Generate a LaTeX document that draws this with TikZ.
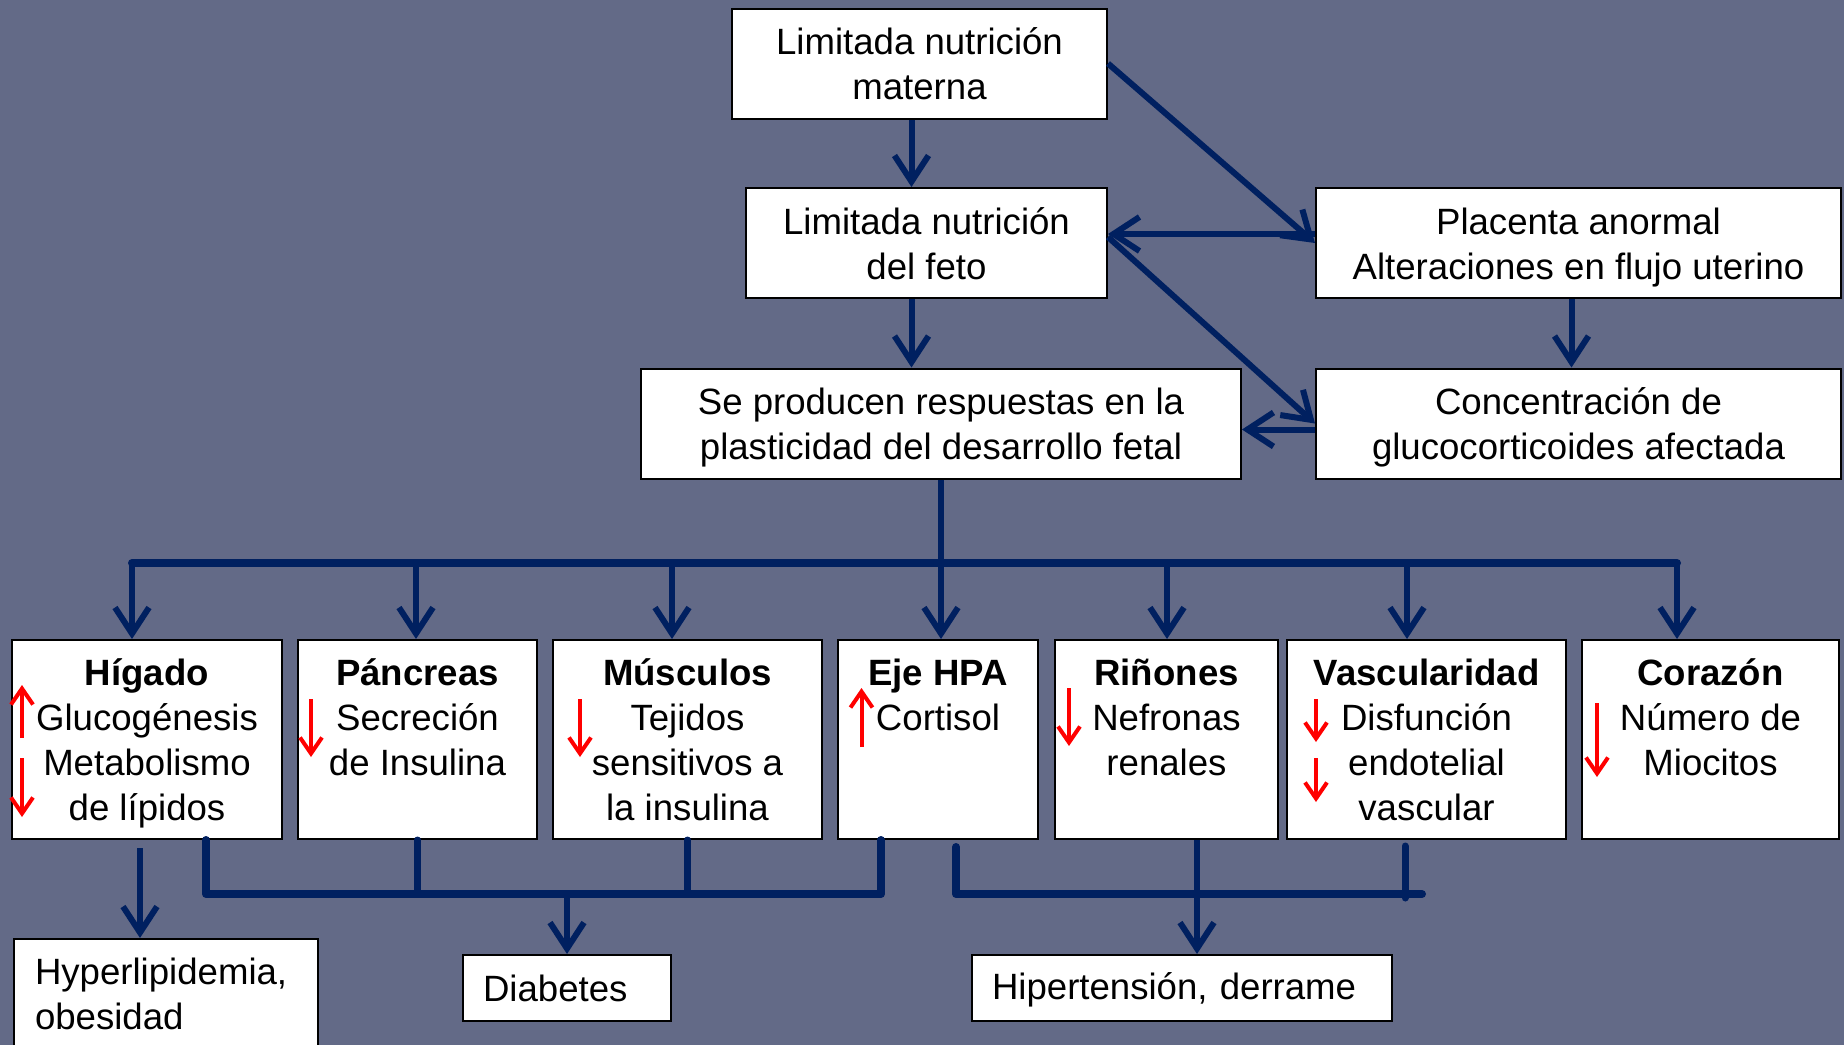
\documentclass[tikz,border=0pt]{standalone}
\usepackage{fontspec}
\setmainfont{Liberation Sans}
\usetikzlibrary{arrows.meta}
\definecolor{fondo}{RGB}{99,106,135}
\definecolor{azul}{RGB}{0,32,96}
\newcommand{\alto}[1]{\rule{0pt}{#1}}
\begin{document}
\begin{tikzpicture}[x=0.5pt,y=-0.5pt,>={Straight Barb[length=13pt,width=17pt]},
	font=\fontsize{18.3}{22.5}\selectfont,
	caja/.style={draw=black,line width=1pt,fill=white,align=center,inner sep=0pt},
	organo/.style={caja,anchor=north west,minimum height=99.5pt},
	salida/.style={caja,anchor=north west,align=left,inner xsep=10pt,minimum height=33pt},
	texto/.style={anchor=north,align=center,inner sep=0pt},
	flecha/.style={->,draw=azul,line width=3pt},
	tallo/.style={draw=azul,line width=3.5pt,line cap=round},
	barra/.style={draw=azul,line width=4pt,line cap=round,line join=round},
	roja/.style={-{Straight Barb[length=8pt,width=11pt]},draw=red,line width=2pt}]
	\useasboundingbox (0,0) rectangle (1844,1045);
	\fill[fondo] (0,0) rectangle (1844,1045);
	\node[caja,minimum width=187.5pt,minimum height=55pt] (materna) at (919.5,63.5) {\alto{20.5pt}Limitada nutrición\\\strut materna};
	\node[caja,minimum width=180.5pt,minimum height=55pt] (feto) at (926.5,243) {\alto{20.5pt}Limitada nutrición\\\strut del feto};
	\node[caja,minimum width=262.5pt,minimum height=55pt] (placenta) at (1578.5,243) {\alto{20.5pt}Placenta anormal\\\strut Alteraciones en flujo uterino};
	\node[caja,minimum width=300pt,minimum height=55pt] (plasti) at (941,423.5) {\alto{20.5pt}Se producen respuestas en la\\\strut plasticidad del desarrollo fetal};
	\node[caja,minimum width=262.5pt,minimum height=55pt] (gluco) at (1578.5,423.5) {\alto{20.5pt}Concentración de\\\strut glucocorticoides afectada};
	\foreach \n/\x/\w in {higado/11/135,pancreas/297/119.5,musculos/552/134.5,hpa/837/100,rinones/1054/111.5,vascular/1286/139.5,corazon/1581/128.5}
		\node[organo,minimum width=\w pt] (\n) at (\x,639) {};
	\node[texto] (higado-t) at ([yshift=-7.5pt]higado.north) {\strut\textbf{Hígado}\\Glucogénesis\\Metabolismo\\de lípidos};
	\node[texto] (pancreas-t) at ([yshift=-7.5pt]pancreas.north) {\strut\textbf{Páncreas}\\Secreción\\de Insulina};
	\node[texto] (musculos-t) at ([yshift=-7.5pt]musculos.north) {\strut\textbf{Músculos}\\Tejidos\\sensitivos a\\la insulina};
	\node[texto] (hpa-t) at ([yshift=-7.5pt]hpa.north) {\strut\textbf{Eje HPA}\\Cortisol};
	\node[texto] (rinones-t) at ([yshift=-7.5pt]rinones.north) {\strut\textbf{Riñones}\\Nefronas\\renales};
	\node[texto] (vascular-t) at ([yshift=-7.5pt]vascular.north) {\strut\textbf{Vascularidad}\\Disfunción\\endotelial\\vascular};
	\node[texto] (corazon-t) at ([yshift=-7.5pt]corazon.north) {\strut\textbf{Corazón}\\Número de\\Miocitos};
	\node[caja,anchor=north west,align=left,text width=131pt,inner xsep=10.5pt,inner ysep=7pt] (hiperlip) at (13,938) {\strut Hyperlipidemia,\\\strut obesidad\\\strut};
	\node[salida,text width=84pt] (diabetes) at (462,954) {Diabetes};
	\node[salida,text width=190pt] (hipert) at (971,954) {\alto{18.2pt}\strut Hipertensión, derrame};
	\draw[flecha] (materna.south -| 911.5,0) -- (feto.north -| 911.5,0);
	\draw[flecha] (feto.south -| 911.5,0) -- (plasti.north -| 911.5,0);
	\draw[flecha] (placenta.south -| 1571.5,0) -- (gluco.north -| 1571.5,0);
	\draw[flecha] (materna.east) -- (placenta.west);
	\draw[flecha] ([yshift=4.5pt]placenta.west) -- ([yshift=4.5pt]feto.east);
	\draw[flecha] ([yshift=3pt]feto.east) -- (gluco.west);
	\draw[flecha] ([yshift=-3pt]gluco.west) -- ([yshift=-3pt]plasti.east);
	\draw[barra] (132,563) -- (1677,563);
	\draw[flecha] (plasti.south) -- (plasti.south |- hpa.north);
	\foreach \x/\n in {132/higado,416/pancreas,672/musculos,1167/rinones,1407/vascular,1677/corazon}
		\draw[flecha] (\x,563) -- (\n.north -| \x,0);
	\foreach \x/\a/\b in {22/738/685,22/758/817,311/699/757,580/699/757,861.5/747/688,1069/688/746,1316/699/742,1316/758/802,1597/703/777}
		\draw[roja] (\x,\a) -- (\x,\b);
	\draw[flecha] (140,848) -- (hiperlip.north -| 140,0);
	\draw[barra] (higado.south -| 206,0) -- (206,894) -- (881,894) -- (hpa.south -| 881,0);
	\draw[tallo] (pancreas.south) -- (pancreas.south |- 0,894);
	\draw[tallo] (musculos.south) -- (musculos.south |- 0,894);
	\draw[flecha] (diabetes.north |- 0,894) -- (diabetes.north);
	\draw[barra] (956,847) -- (956,894) -- (1422,894);
	\draw[tallo] (1405,846) -- (1405,898);
	\draw[flecha] (rinones.south -| 1197,0) -- (hipert.north -| 1197,0);
\end{tikzpicture}
\end{document}
